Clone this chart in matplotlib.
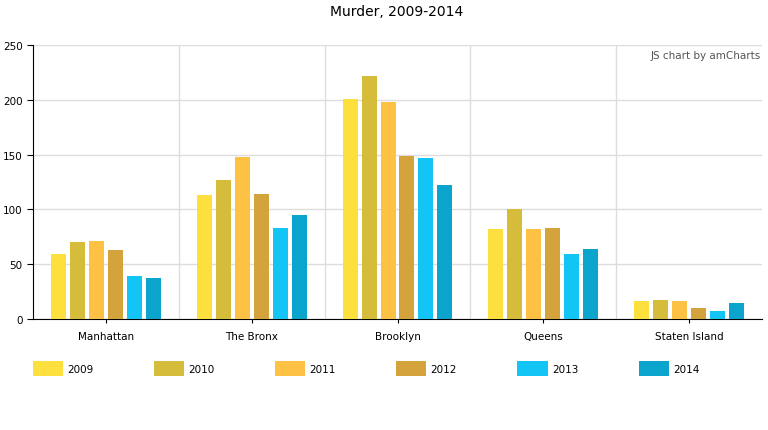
import numpy as np
import matplotlib.pyplot as plt

boroughs = ["Manhattan", "The Bronx", "Brooklyn", "Queens", "Staten Island"]
years = ["2009", "2010", "2011", "2012", "2013", "2014"]
v2009 = [59, 113, 201, 82, 16]
v2010 = [70, 127, 222, 100, 17]
v2011 = [71, 148, 198, 82, 16]
v2012 = [63, 114, 149, 83, 10]
v2013 = [39, 83, 147, 59, 7]
v2014 = [37, 95, 122, 64, 15]
colors = ["#FDE03E", "#D5BC3B", "#FDC244", "#D4A33B", "#12C5F5", "#0BA4CC"]

series = [v2009, v2010, v2011, v2012, v2013, v2014]

fig = plt.figure(figsize=(7.68, 4.31), dpi=100)
ax = fig.add_axes([33 / 768, 1 - 320 / 431, 729 / 768, 274 / 431])

x = np.arange(len(boroughs))
pitch = 0.13
width = 0.103
for i, (vals, c) in enumerate(zip(series, colors)):
    ax.bar(x + (i - 2.5) * pitch, vals, width, color=c, label=years[i], zorder=3)

ax.set_xlim(-0.5, len(boroughs) - 0.5)
ax.set_ylim(0, 250)
ax.set_yticks(range(0, 251, 50))
ax.set_xticks(x)
ax.set_xticklabels(boroughs)
ax.set_xticks(np.arange(0.5, len(boroughs) - 0.5, 1), minor=True)
ax.grid(axis="y", color="#dddddd", linewidth=1, zorder=0)
ax.grid(axis="x", which="minor", color="#dddddd", linewidth=1, zorder=0)
ax.tick_params(axis="x", which="minor", length=0)
ax.tick_params(axis="x", which="major", length=3, labelsize=7.5, pad=6)
ax.tick_params(axis="y", length=4, labelsize=7.5)
for s in ["top", "right"]:
    ax.spines[s].set_visible(False)
ax.spines["left"].set_color("#000000")
ax.spines["bottom"].set_color("#000000")

ax.text(0.998, 0.98, "JS chart by amCharts", transform=ax.transAxes,
        ha="right", va="top", fontsize=7.5, color="#555555")

fig.text(397 / 768, 1 - 12 / 431, "Murder, 2009-2014", ha="center", va="center",
         fontsize=10)

fig.legend(loc="upper left", bbox_to_anchor=(33 / 768, 1 - 362 / 431), ncol=6,
           frameon=False, fontsize=7.5, handlelength=2.9, handleheight=1.84,
           columnspacing=5.8, handletextpad=0.4, borderpad=0, borderaxespad=0)

fig.savefig("out.png", dpi=100)
